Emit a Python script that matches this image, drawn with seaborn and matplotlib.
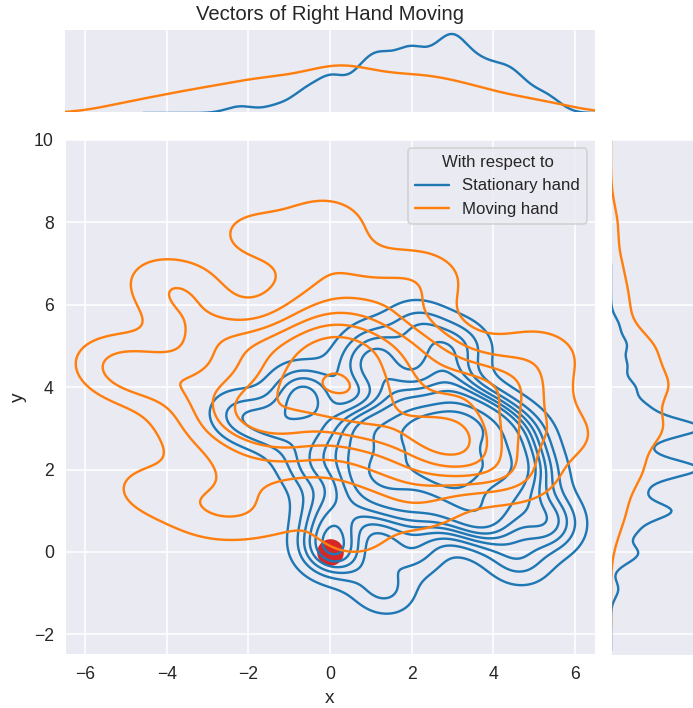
import numpy as np
import pandas as pd
import seaborn as sns
import matplotlib
matplotlib.use("Agg")
import matplotlib.pyplot as plt
from matplotlib.colors import to_hex

groups = ["Stationary hand", "Moving hand"]
colors = ["#1f77b4", "#ff7f0e"]

# Stationary hand samples (x, y)
stat_x = [-1.3, -0.7, 0.6, 1.3, 1.9, 2.3, 2.6, 2.9, 3.2, 3.6, 4.1, 4.7,
          -0.5, 0.9, 1.0, 1.6, 2.1, 2.5, 2.8, 3.1, 3.5, 3.9, 4.4, 5.0,
          0.0, 1.8, 3.0, 4.3,
          0.7, 1.7, 3.0, 4.5,
          0.0, 1.2, 2.6, 3.3, 4.2, 5.4, 2.0, 3.6,
          0.1, 3.8,
          -0.1, 0.2, 2.0,
          4.6, 1.3,
          3.0, 2.0, 3.8,
          -0.6, 1.5, 3.0,
          0.8, 2.6,
          1.2, 3.2,
          2.2, 5.3, -2.2, 1.0]
stat_y = [3.0, 3.6, 2.95, 3.05, 3.0, 3.1, 2.9, 3.0, 3.05, 2.95, 3.1, 2.9,
          2.0, 2.1, 1.95, 2.05, 2.0, 2.1, 1.9, 2.0, 2.05, 1.95, 2.1, 2.0,
          2.5, 2.55, 2.45, 2.5,
          1.5, 1.45, 1.55, 1.5,
          1.0, 1.05, 0.95, 1.0, 1.05, 0.95, 1.0, 0.95,
          0.5, 0.55,
          0.0, -0.05, 0.05,
          -0.2, -0.9,
          3.5, 3.55, 3.45,
          4.0, 4.05, 3.95,
          4.5, 4.55,
          5.0, 5.05,
          5.5, 0.5, 3.3, 3.0]

# Moving hand samples (x, y)
move_x = [-5.2, -3.8, -2.6, -1.6, -0.9, -0.3, 0.1, 0.4, 0.9, 1.6, 2.5, 3.5, 4.8,
          -4.9, -3.0, -2.0, -1.2, -0.5, 0.0, 0.5, 1.0, 1.7, 2.6, 3.7, 5.2,
          -3.3, -2.2, -1.3, -0.6, 0.3, 0.9, 1.5, 2.1, 2.8, 3.3, 4.0, 5.6,
          -2.5, -1.0, 0.6, 1.8, 2.9, 3.8, 4.6,
          -1.8, 2.2, -4.4, -3.0,
          0.5,
          -3.5, -0.5, 0.6, 1.8, -1.8, 3.0,
          -4.0, 0.0, 2.3,
          0.0, -1.8]
move_y = [4.6, 4.1, 3.9, 4.0, 4.1, 3.95, 4.05, 4.0, 3.9, 4.1, 4.0, 3.9, 4.0,
          4.3, 5.1, 4.9, 5.0, 5.05, 4.95, 5.1, 5.0, 4.9, 5.0, 4.2, 4.9,
          3.0, 3.1, 2.9, 3.0, 3.05, 2.95, 3.1, 3.0, 2.9, 3.0, 3.1, 2.9,
          2.0, 2.1, 1.9, 2.0, 2.1, 2.0, 1.9,
          1.0, 1.1, 1.5, 0.9,
          0.4,
          6.0, 5.9, 6.0, 6.1, 3.4, 2.5,
          6.6, 7.0, 6.8,
          8.1, 7.7]

hue_col = "With respect to"
df = pd.DataFrame({
    "x": stat_x + move_x,
    "y": stat_y + move_y,
    hue_col: [groups[0]] * len(stat_x) + [groups[1]] * len(move_x),
})

sns.set_theme(style="darkgrid")
plt.rcParams["font.family"] = ["Liberation Sans", "DejaVu Sans"]

DPI = 115
W, H = 693, 708
g = sns.JointGrid(data=df, x="x", y="y", hue=hue_col, palette=colors,
                  hue_order=groups, height=6)
g.ax_joint.scatter([0], [0], s=245, color="tab:red")
g.plot_joint(sns.kdeplot, bw_adjust=0.65)

# marginal bandwidths (x, y) per group
marg_bw = {groups[0]: (0.45, 0.35), groups[1]: (0.65, 0.6)}
marg_cut = {groups[0]: 7, groups[1]: 5}
for grp, col in zip(groups, colors):
    sub = df[df[hue_col] == grp]
    sns.kdeplot(x=sub["x"], ax=g.ax_marg_x, color=col,
                bw_adjust=marg_bw[grp][0], cut=marg_cut[grp])
    sns.kdeplot(y=sub["y"], ax=g.ax_marg_y, color=col,
                bw_adjust=marg_bw[grp][1], cut=marg_cut[grp])
for ax in (g.ax_marg_x, g.ax_marg_y):
    ax.set_xlabel("")
    ax.set_ylabel("")

g.ax_joint.set_xlim(-6.5, 6.5)
g.ax_joint.set_ylim(-2.5, 10)
g.ax_joint.set_xlabel("x")
g.ax_joint.set_ylabel("y")
g.ax_joint.tick_params(pad=1)
g.ax_marg_x.set_title("Vectors of Right Hand Moving", fontsize=12.7)
sns.move_legend(g.ax_joint, "upper right", title=hue_col,
                fontsize=10.5, title_fontsize=10.5)

fig = g.figure
fig.set_size_inches(W / DPI, H / DPI)
def place(ax, l, t, r, b):
    ax.set_position([l / W, 1 - b / H, (r - l) / W, (b - t) / H])
place(g.ax_joint, 65, 140, 595, 655)
place(g.ax_marg_x, 65, 30, 595, 113)
place(g.ax_marg_y, 611, 140, 693, 655)

# clip the right marginal like the reference (orange peak at ~70% of width)
orange = [ln for ln in g.ax_marg_y.get_lines() if to_hex(ln.get_color()) == colors[1]]
if orange:
    xmax = max(ln.get_xdata().max() for ln in orange)
    g.ax_marg_y.set_xlim(0, xmax / 0.7)

fig.savefig("out.png", dpi=DPI)
